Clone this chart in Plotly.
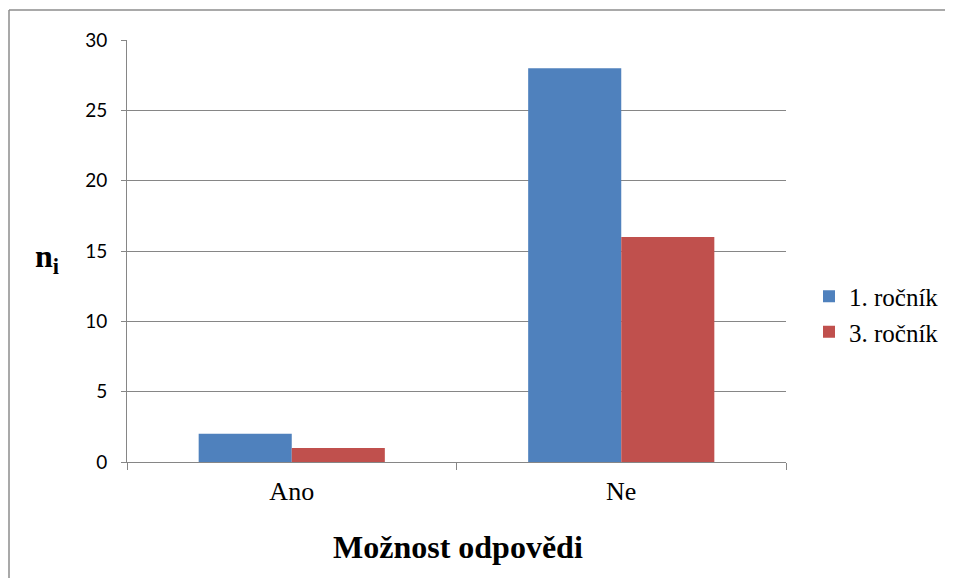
import plotly.graph_objects as go

categories = ["Ano", "Ne"]
series_names = ["1. ročník", "3. ročník"]
values_1 = [2, 28]
values_3 = [1, 16]
y_ticks = [0, 5, 10, 15, 20, 25, 30]

colors = ["#4F81BD", "#C0504D"]
OFF = 8  # page body margin
W, H = 953 - OFF, 578 - OFF
L, R, T, B = 127 - OFF, 786 - OFF, 40 - OFF, 462 - OFF

fig = go.Figure()
for name, vals, col in zip(series_names, [values_1, values_3], colors):
    fig.add_trace(go.Bar(x=categories, y=vals, name=name, marker=dict(color=col, line=dict(width=0))))

def px_x(px):
    return (px - OFF - L) / (R - L)

def px_y(py):
    return (B - (py - OFF)) / (B - T)

grid = "#868686"
serif = "Liberation Serif, Times New Roman, serif"
fig.update_layout(
    width=W, height=H,
    margin=dict(l=L, r=W - R, t=T, b=H - B, pad=0, autoexpand=False),
    paper_bgcolor="white", plot_bgcolor="white",
    font=dict(family=serif, size=22, color="black"),
    barmode="group", bargap=0.435, bargroupgap=0,
    showlegend=True,
    legend=dict(x=px_x(809), y=px_y(314), xanchor="left", yanchor="middle",
                font=dict(family=serif, size=25, color="black"),
                itemwidth=30),
    xaxis=dict(showgrid=False, showline=True, linecolor=grid, linewidth=1,
               ticks="outside", ticklen=7, tickcolor=grid, tickson="boundaries",
               tickfont=dict(family=serif, size=26, color="black"),
               ticklabelstandoff=6),
    yaxis=dict(range=[0, 30], tickvals=y_ticks, showgrid=True, gridcolor=grid, gridwidth=1,
               showline=True, linecolor=grid, linewidth=1, ticks="outside", ticklen=5,
               tickcolor=grid, zeroline=False,
               tickfont=dict(family="Lato", size=19, color="black"), ticklabelstandoff=10),
    annotations=[
        dict(text="<b>n<sub>i</sub></b>", x=px_x(47), y=px_y(258), xref="paper", yref="paper",
             showarrow=False, xanchor="center", yanchor="middle",
             font=dict(family=serif, size=32, color="black")),
        dict(text="<b>Možnost odpovědi</b>", x=px_x(458), y=px_y(547), xref="paper", yref="paper",
             showarrow=False, xanchor="center", yanchor="middle",
             font=dict(family=serif, size=32, color="black")),
    ],
    shapes=[
        dict(type="line", xref="paper", yref="paper", x0=px_x(9), y0=px_y(10), x1=px_x(960), y1=px_y(10),
             line=dict(color="#8C8C8C", width=1.5)),
        dict(type="line", xref="paper", yref="paper", x0=px_x(9), y0=px_y(10), x1=px_x(9), y1=px_y(590),
             line=dict(color="#8C8C8C", width=1.5)),
    ],
)

fig.write_html("out.html")
